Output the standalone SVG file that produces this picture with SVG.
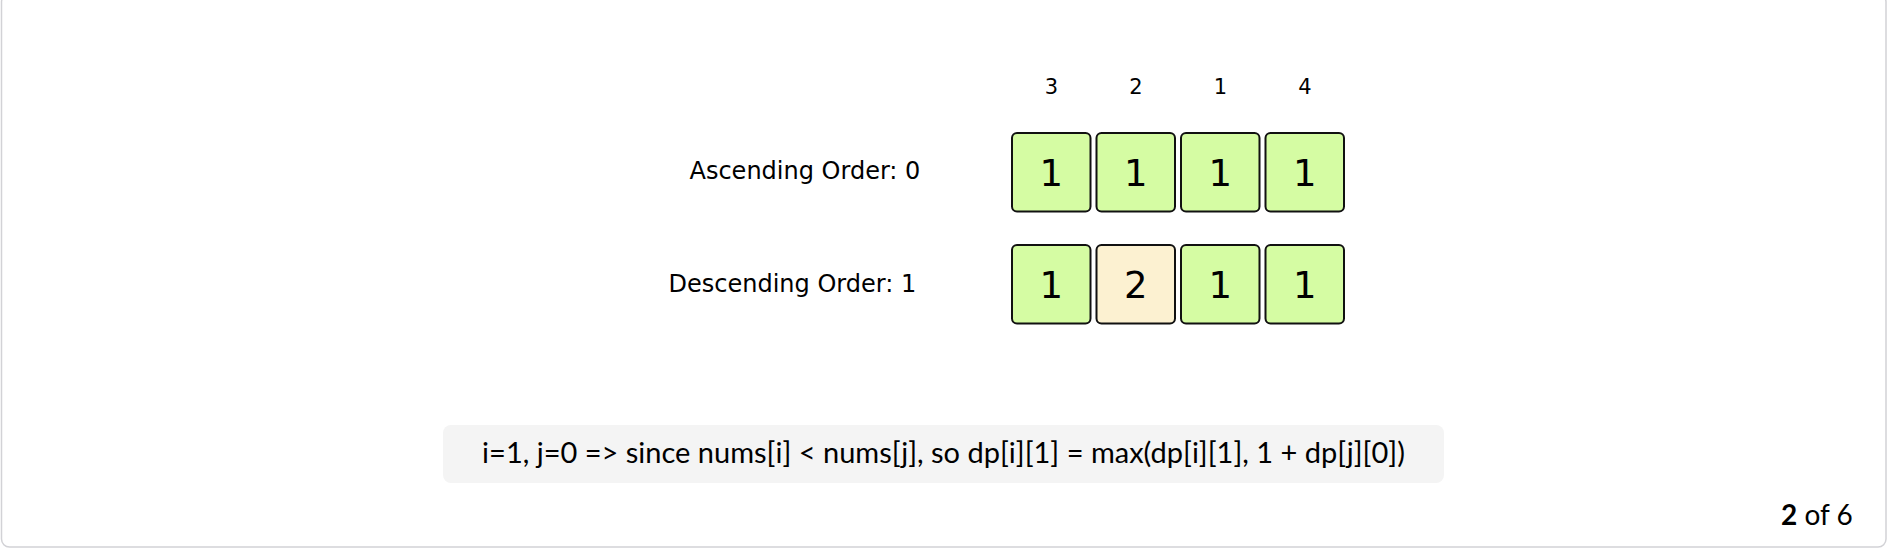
<svg xmlns="http://www.w3.org/2000/svg" width="1890" height="550" viewBox="0 0 1890 550">
<style>
.frame{fill:#ffffff;stroke:#d2d2d6;stroke-width:1.5}
.cell{stroke:#111111;stroke-width:2}
.g{fill:#d5fca3}
.y{fill:#fcf1d1}
.num{font-family:"DejaVu Sans",Verdana,sans-serif;font-size:37px;fill:#000;text-anchor:middle}
.hdr{font-family:"DejaVu Sans",Verdana,sans-serif;font-size:21px;fill:#000;text-anchor:middle}
.lbl{font-family:"DejaVu Sans",Verdana,sans-serif;font-size:24px;fill:#000}
.cap{font-family:Lato,"Open Sans",sans-serif;font-size:29px;fill:#000;text-anchor:middle}
.pg{font-family:Lato,"Open Sans",sans-serif;font-size:28px;fill:#000}
</style>
<rect class="frame" x="1.5" y="-6" width="1884.5" height="553" rx="8"/>
<g id="headers">
<text class="hdr" x="1051.5" y="94">3</text>
<text class="hdr" x="1136" y="94">2</text>
<text class="hdr" x="1220.5" y="94">1</text>
<text class="hdr" x="1305" y="94">4</text>
</g>
<g id="label-asc"><text class="lbl" x="689.5" y="179">Ascending Order: 0</text></g>
<g id="label-desc"><text class="lbl" x="668.5" y="292">Descending Order: 1</text></g>
<g id="row-asc">
<g id="asc-0"><rect class="cell g" x="1012" y="133" width="78.5" height="78.5" rx="5"/><text class="num" x="1051.2" y="185.5">1</text></g>
<g id="asc-1"><rect class="cell g" x="1096.5" y="133" width="78.5" height="78.5" rx="5"/><text class="num" x="1135.7" y="185.5">1</text></g>
<g id="asc-2"><rect class="cell g" x="1181" y="133" width="78.5" height="78.5" rx="5"/><text class="num" x="1220.2" y="185.5">1</text></g>
<g id="asc-3"><rect class="cell g" x="1265.5" y="133" width="78.5" height="78.5" rx="5"/><text class="num" x="1304.7" y="185.5">1</text></g>
</g>
<g id="row-desc">
<g id="desc-0"><rect class="cell g" x="1012" y="245" width="78.5" height="78.5" rx="5"/><text class="num" x="1051.2" y="297.5">1</text></g>
<g id="desc-1"><rect class="cell y" x="1096.5" y="245" width="78.5" height="78.5" rx="5"/><text class="num" x="1135.7" y="297.5">2</text></g>
<g id="desc-2"><rect class="cell g" x="1181" y="245" width="78.5" height="78.5" rx="5"/><text class="num" x="1220.2" y="297.5">1</text></g>
<g id="desc-3"><rect class="cell g" x="1265.5" y="245" width="78.5" height="78.5" rx="5"/><text class="num" x="1304.7" y="297.5">1</text></g>
</g>
<g id="caption">
<rect x="443" y="425" width="1001" height="58" rx="8" fill="#f4f4f4"/>
<text class="cap" x="943.5" y="463">i=1, j=0 =&gt; since nums[i] &lt; nums[j], so dp[i][1] = max(dp[i][1], 1 + dp[j][0])</text>
</g>
<g id="pager"><text class="pg" x="1781" y="525"><tspan font-weight="bold">2</tspan> of 6</text></g>
<g id="connectors"/>
</svg>
